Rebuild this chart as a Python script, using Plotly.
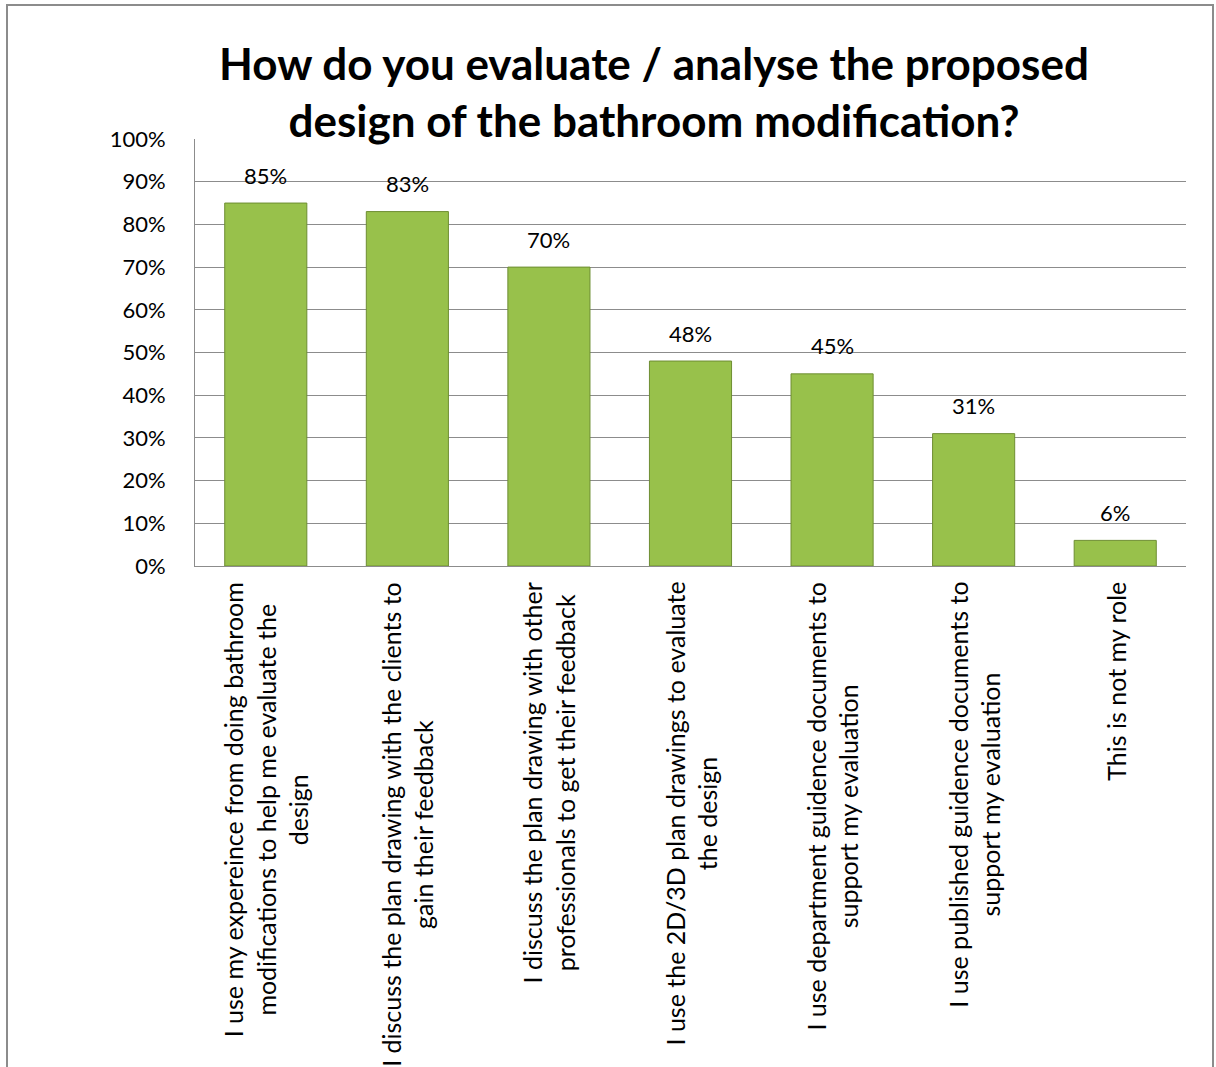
import plotly.graph_objects as go

# Survey responses (share of respondents)
categories = [
    "I use my expereince from doing bathroom<br>modifications to help me evaluate the<br>design",
    "I discuss the plan drawing with the clients to<br>gain their feedback",
    "I discuss the plan drawing with other<br>professionals to get their feedback",
    "I use the 2D/3D plan drawings to evaluate<br>the design",
    "I use department guidence documents to<br>support my evaluation",
    "I use published guidence documents to<br>support my evaluation",
    "This is not my role",
]
values = [0.85, 0.83, 0.70, 0.48, 0.45, 0.31, 0.06]
value_labels = ["85%", "83%", "70%", "48%", "45%", "31%", "6%"]

title_text = "<b>How do you evaluate / analyse the proposed<br>design of the bathroom modification?</b>"

FONT = "Lato"
W, H = 1216, 1067
L, R, T, B = 195, 30, 139, 501

fig = go.Figure()
fig.add_trace(go.Bar(
    x=categories,
    y=values,
    width=0.58,
    marker=dict(color="#98C14B", line=dict(color="#6E8E32", width=1)),
    hoverinfo="skip",
))

annotations = []
# value labels above each bar
for c, v, lab in zip(categories, values, value_labels):
    annotations.append(dict(
        x=c, y=v, xref="x", yref="y", text=lab, showarrow=False,
        yanchor="middle", yshift=28,
        font=dict(family=FONT, size=22, color="#000000"),
    ))
# rotated, centred category labels under the axis
for c in categories:
    annotations.append(dict(
        x=c, y=0, xref="x", yref="paper", text=c, showarrow=False,
        textangle=-90, xanchor="center", yanchor="top", yshift=-14,
        align="center",
        font=dict(family=FONT, size=25, color="#000000"),
    ))

pw = W - L - R
ph = H - T - B
fig.update_layout(
    width=W, height=H,
    margin=dict(l=L, r=R, t=T, b=B, pad=0),
    paper_bgcolor="#FFFFFF", plot_bgcolor="#FFFFFF",
    showlegend=False,
    bargap=0.42,
    title=dict(
        text=title_text,
        x=654 / W, xanchor="center", xref="container",
        y=1 - 80 / H, yanchor="top", yref="container",
        font=dict(family=FONT, size=44, color="#000000"),
    ),
    xaxis=dict(
        showticklabels=False, showgrid=False, zeroline=False,
        showline=True, linecolor="#8C8C8C", linewidth=1,
        ticks="",
    ),
    yaxis=dict(
        range=[0, 1], dtick=0.1, tickformat=".0%",
        showgrid=True, gridcolor="#8C8C8C", gridwidth=1,
        zeroline=False, showline=True, linecolor="#8C8C8C", linewidth=1,
        ticks="", ticklabelstandoff=24,
        tickfont=dict(family=FONT, size=22, color="#000000"),
    ),
    annotations=annotations,
    shapes=[dict(
        type="rect", xref="paper", yref="paper",
        x0=(7 - L) / pw, x1=(1213 - L) / pw,
        y0=(H - B - 1090) / ph, y1=(H - B - 5) / ph,
        line=dict(color="#8C8C8C", width=2), fillcolor="rgba(0,0,0,0)",
        layer="below",
    )],
)

fig.write_html("out.html")
